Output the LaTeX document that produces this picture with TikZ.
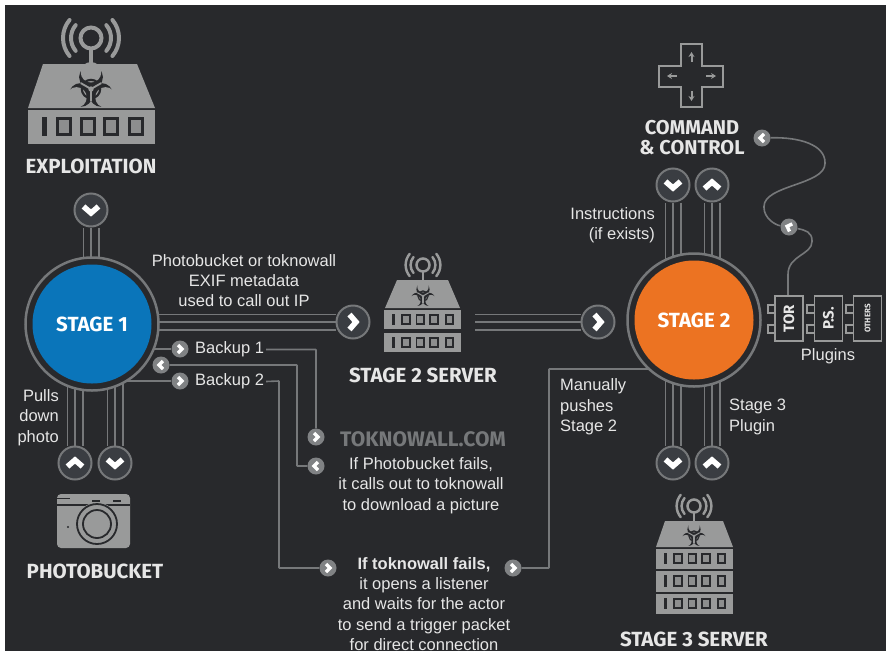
\documentclass[tikz,border=0pt]{standalone}
\usepackage{fontspec}
\setmainfont{Liberation Sans}
\newfontfamily\headfont{Fira Sans}
\usetikzlibrary{arrows.meta,calc}
\pgfdeclarelayer{wires}
\pgfsetlayers{wires,main}
\definecolor{bgc}{HTML}{28292C}
\definecolor{lnc}{HTML}{76787A}
\definecolor{icn}{HTML}{999A9A}
\definecolor{txc}{HTML}{E6E6E6}
\definecolor{blu}{HTML}{0A75BA}
\definecolor{org}{HTML}{EC7322}
\definecolor{prt}{HTML}{3A3D42}
\definecolor{sml}{HTML}{808284}
\tikzset{
  ring/.style={circle,draw=lnc,line width=2.5pt,fill=bgc,minimum size=133pt,inner sep=0pt},
  core/.style={circle,minimum size=119pt,inner sep=0pt,text=white,font=\headfont\bfseries\fontsize{20.5}{22}\selectfont},
  bigport/.style={circle,draw=lnc,line width=2pt,fill=prt,minimum size=33pt,inner sep=0pt},
  smallport/.style={circle,fill=sml,minimum size=17pt,inner sep=0pt},
  triple/.style={preaction={draw,lnc,line width=17pt},preaction={draw,bgc,line width=13.2pt},draw=lnc,line width=1.9pt},
  wire/.style={draw=lnc,line width=1.6pt,rounded corners=0.5pt},
  body/.style={inner sep=0pt,text=txc,align=center,font=\fontsize{16.5}{20.4}\selectfont},
  bodyl/.style={body,align=left,anchor=west},
  bodyr/.style={body,align=right,anchor=east},
  head/.style={inner sep=0pt,text=txc,align=center,font=\headfont\bfseries\fontsize{20.5}{19.5}\selectfont},
  plug/.style={draw=icn,line width=1.8pt,fill=bgc,minimum width=28pt,minimum height=45pt,inner sep=0pt},
  tab/.style={draw=icn,line width=1.5pt,fill=bgc},
  pluglab/.style={inner sep=0pt,text=txc,rotate=90,font=\headfont\bfseries\fontsize{15}{15}\selectfont},
  chevbig/.style={draw=white,line width=5.5pt,miter limit=10},
  chevsmall/.style={draw=white,line width=3.4pt,miter limit=10},
}
\newcommand{\chevB}[2]{\draw[chevbig,shift={(#1)},rotate=#2] (-3.5,-7.5) -- (3,0) -- (-3.5,7.5);}
\newcommand{\chevS}[2]{\draw[chevsmall,shift={(#1)},rotate=#2] (-2,-4) -- (2,0) -- (-2,4);}
% one rack unit: drawn 127 x 34, scaled to the size wanted
\newcommand{\slotrow}[4]{%
\begin{scope}[shift={(#1,#2)},xscale={#3/127},yscale={#4/34}]
  \fill[icn] (0,0) rectangle (127,34);
  \fill[bgc] (14,7) rectangle (18.5,26);
  \foreach \a in {28,52,75,100}{
    \fill[bgc] (\a,7) rectangle ++(16,19);
    \fill[icn!92!black] ({\a+3.2},10.2) rectangle ++(9.6,12.6);
  }
\end{scope}}
\newcommand{\antenna}[3]{%
\begin{scope}[shift={(#1,#2)},scale=#3]
  \pgfmathsetmacro{\lw}{4*#3}
  \draw[icn,line width=\lw pt] (0,0) circle[radius=10.5];
  \draw[icn,line width=\lw pt] (0,10) -- (0,27);
  \foreach \r in {20,28}{
    \draw[icn,line width=\lw pt,line cap=round] (40:\r) arc[start angle=40,end angle=-40,radius=\r];
    \draw[icn,line width=\lw pt,line cap=round] (140:\r) arc[start angle=140,end angle=220,radius=\r];
  }
\end{scope}}
\newcommand{\biohaz}[3]{%
\begin{scope}[shift={(#1,#2)},scale=#3]
  \pgfmathsetmacro{\lw}{2*#3}
  \pgfmathsetmacro{\lg}{1.7*#3}
  \foreach \a in {270,30,150}{\fill[bgc] (\a:11) circle[radius=11];}
  \foreach \a in {270,30,150}{\fill[icn] (\a:15.5) circle[radius=9.5];}
  \draw[bgc,line width=\lw pt] (0,0) circle[radius=8.5];
  \foreach \a in {90,210,330}{\draw[icn,line width=\lg pt] (0,0) -- (\a:11);}
  \fill[icn] (0,0) circle[radius=2.5];
\end{scope}}
\begin{document}
\begin{tikzpicture}[x=1pt,y=-1pt]
\useasboundingbox (0,0) rectangle (886,651);
\begin{pgfonlayer}{wires}
  \fill[white] (0,0) rectangle (886,651);
  \fill[bgc] (5,5) rectangle (886,651);
\end{pgfonlayer}

% Stage circles
\node[ring] (st1r) at (92,324) {};
\node[core,fill=blu] (st1) at (92,324) {STAGE 1};
\node[ring] (st2r) at (694,320) {};
\node[core,fill=org] (st2) at (694,320) {STAGE 2};

% Big ports
\node[bigport] (ptop) at (91,210) {};
\node[bigport] (pup) at (75,463) {};
\node[bigport] (pdn) at (115,463) {};
\node[bigport] (pa) at (353,322) {};
\node[bigport] (pb) at (598,322) {};
\node[bigport] (ca) at (673,185) {};
\node[bigport] (cb) at (712,185) {};
\node[bigport] (da) at (673,463) {};
\node[bigport] (db) at (712,463) {};
\chevB{ptop}{-90}\chevB{pup}{90}\chevB{pdn}{-90}\chevB{pa}{0}\chevB{pb}{0}
\chevB{ca}{-90}\chevB{cb}{90}\chevB{da}{-90}\chevB{db}{90}
\coordinate (srvout) at (475,322);

% Labels with wires
\node[body,anchor=west,inner sep=2pt] (bk1) at (193,349.5) {Backup 1};
\node[body,anchor=west,inner sep=2pt] (bk2) at (193,381.5) {Backup 2};
\node[smallport] (s1) at (180,349) {};
\node[smallport] (s2) at (161,365) {};
\node[smallport] (s3) at (180,381) {};
\node[smallport] (t1) at (316,437) {};
\node[smallport] (t2) at (316,466) {};
\node[smallport] (q1) at (328,568) {};
\node[smallport] (q2) at (513,568) {};
\node[smallport] (cc1) at (762,138) {};
\node[smallport] (cc2) at (789,227) {};
\chevS{s1}{0}\chevS{s2}{180}\chevS{s3}{0}\chevS{t1}{0}\chevS{t2}{180}\chevS{q1}{0}\chevS{q2}{0}\chevS{cc1}{180}\chevS{cc2}{160}
\coordinate (b2) at (279,381);
\coordinate (b3) at (549,568);
\coordinate (b4) at (549,369);
\coordinate (b5) at (297,365);

% Plugins
\foreach \x in {768,807,846}{
  \draw[tab] (\x,305) rectangle ++(8,8);
  \draw[tab] (\x,325) rectangle ++(8,8);
}
\node[plug] (tor) at (789,318.5) {};
\node[plug] (ps) at (828.5,318.5) {};
\node[plug] (oth) at (867.5,318.5) {};
\node[pluglab] (torl) at (tor) {TOR};
\node[pluglab] (psl) at (ps) {P.S.};
\node[pluglab,font=\headfont\bfseries\fontsize{8}{8}\selectfont] (othl) at (oth) {OTHERS};
\node[body] (plugl) at (828,356) {Plugins};

\begin{pgfonlayer}{wires}
  \draw[triple] (ptop) -- (ptop |- st1);
  \draw[triple] (pup) -- (pup |- st1);
  \draw[triple] (pdn) -- (pdn |- st1);
  \draw[triple] (st1 |- pa) -- (pa);
  \draw[triple] (srvout) -- (pb);
  \draw[triple] (ca) -- (ca |- st2);
  \draw[triple] (cb) -- (cb |- st2);
  \draw[triple] (da) -- (da |- st2);
  \draw[triple] (db) -- (db |- st2);
  \draw[wire] (st1 |- s1) -- (s1);
  \draw[wire] (st1 |- s3) -- (s3);
  \draw[wire] (bk1.east) -| (t1);
  \draw[wire] (s2) -- (b5) |- (t2);
  \draw[wire] (bk2.east) -- (b2) |- (q1);
  \draw[wire] (q2) -- (b3) -- (b4) -- (st2 |- b4);
  \draw[wire] (cc1) .. controls (800,137) and (825,145) .. (825,163)
     .. controls (825,185) and (764,185) .. (764,207)
     .. controls (764,218) and (775,225) .. (cc2);
  \draw[wire] (cc2) .. controls (805,230) and (812,232) .. (812,241)
     .. controls (812,255) and (788,255) .. (788,275) -- (tor.north -| 788,0);
\end{pgfonlayer}

% Exploitation icon
\antenna{91}{38}{1}
\fill[icn] (43,64) -- (137,64) -- (155,108) -- (28,108) -- cycle;
\biohaz{91}{89}{1.08}
\slotrow{28}{110}{127}{34}
\node[head] (lexp) at (91,166) {EXPLOITATION};

% Stage 2 server icon
\antenna{423}{265}{0.62}
\fill[icn] (397,280) -- (448,280) -- (460,308) -- (385,308) -- cycle;
\biohaz{423}{296}{0.6}
\slotrow{384}{310}{77}{19}
\slotrow{384}{333}{77}{19}
\node[head] (lsrv2) at (423,375) {STAGE 2 SERVER};

% Stage 3 server icon
\antenna{694}{506}{0.62}
\fill[icn] (665,521) -- (723,521) -- (733,547) -- (656,547) -- cycle;
\biohaz{694}{536}{0.6}
\slotrow{656}{548.5}{77}{20.5}
\slotrow{656}{571}{77}{20.5}
\slotrow{656}{593.5}{77}{20.5}
\node[head] (lsrv3) at (694,639) {STAGE 3 SERVER};

% Camera
\fill[icn,rounded corners=4pt] (57,494) rectangle (130,548);
\fill[bgc] (57,497.5) rectangle (70,498.8);
\fill[bgc] (57,504) rectangle (130,505.5);
\fill[icn] (97,524) circle[radius=21.5];
\draw[bgc,line width=1.8pt] (97,524) circle[radius=20];
\draw[bgc,line width=1.8pt] (97,524) circle[radius=14];
\fill[bgc] (92,500.2) rectangle (100,501.8);
\fill[bgc] (113,500.2) rectangle (121,501.8);
\fill[bgc] (68,527) circle[radius=1.2];
\node[head] (lphoto) at (95,571) {PHOTOBUCKET};

% D-pad
\draw[icn,line width=2.4pt,line join=miter]
  (681,44) -- (702,44) -- (702,66) -- (723,66) -- (723,87) -- (702,87) -- (702,107)
  -- (681,107) -- (681,87) -- (659,87) -- (659,66) -- (681,66) -- cycle;
\draw[icn,line width=2pt,-{Stealth[length=5pt,width=6pt]}] (691.5,62) -- (691.5,52);
\draw[icn,line width=2pt,-{Stealth[length=5pt,width=6pt]}] (691.5,91) -- (691.5,101);
\draw[icn,line width=2pt,-{Stealth[length=5pt,width=6pt]}] (677,76) -- (667,76);
\draw[icn,line width=2pt,-{Stealth[length=5pt,width=6pt]}] (706,76) -- (716,76);
\node[head,font=\headfont\bfseries\fontsize{20}{19.5}\selectfont] (lcc) at (692,137.5) {COMMAND\\\& CONTROL};

% Texts
\node[body] (lmeta) at (244,280.5) {Photobucket or toknowall\\EXIF metadata\\used to call out IP};
\node[bodyr] (lpull) at (59,417.5) {Pulls\\down\\photo};
\node[bodyr] (linst) at (655,225) {Instructions\\(if exists)};
\node[bodyl] (lman) at (560,407) {Manually\\pushes\\Stage 2};
\node[bodyl] (lplug) at (729,417) {Stage 3\\Plugin};
\node[head,text=lnc,font=\headfont\bfseries\fontsize{21}{22}\selectfont] (ltk) at (423,439) {TOKNOWALL.COM};
\node[body] (lfail) at (421,485.5) {If Photobucket fails,\\it calls out to toknowall\\to download a picture};
\node[body,font=\fontsize{16.5}{20.1}\selectfont] (lfail2) at (424,604) {\textbf{If toknowall fails,}\\it opens a listener\\and waits for the actor\\to send a trigger packet\\for direct connection};
\end{tikzpicture}
\end{document}
